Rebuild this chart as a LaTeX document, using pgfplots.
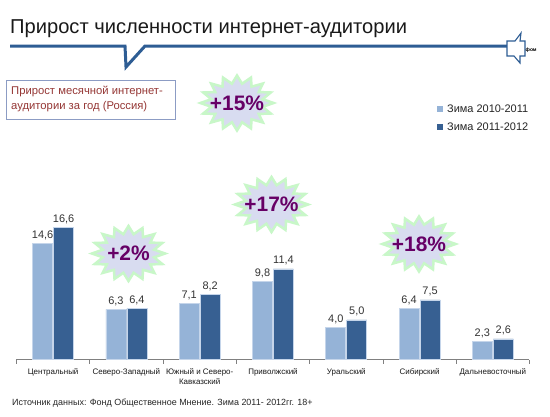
\documentclass[border=0pt]{standalone}
\usepackage{pgfplots}
\pgfplotsset{compat=1.18}
\usepackage{fontspec}
\setmainfont{Liberation Sans}
\usetikzlibrary{shapes.geometric}
\definecolor{lightbar}{HTML}{95B3D7}
\definecolor{darkbar}{HTML}{376092}
\definecolor{baredge}{HTML}{C5D5EA}
\definecolor{linecol}{HTML}{2E5D94}
\definecolor{starfill}{HTML}{D8DCF0}
\definecolor{starglow}{HTML}{C8F7C8}
\definecolor{purp}{HTML}{660066}
\definecolor{boxtext}{HTML}{953735}
\definecolor{boxframe}{HTML}{8C9CC4}
\begin{document}
\begin{tikzpicture}[x=1bp,y=1bp]
\path[fill=white,use as bounding box] (0,0) rectangle (550,416);
% title
\node[anchor=base west, inner sep=0, font=\fontsize{20.2}{24}\selectfont, text=black!90] at (10,416-33) {Прирост численности интернет-аудитории};
\draw[linecol, line width=3bp, line join=miter] (10,416-46) -- (125,416-46) -- (126,416-67) -- (145,416-46) -- (507,416-46);
\draw[linecol, line width=1.1bp, fill=white, line join=miter] (507,416-41) -- (515,416-41) -- (521,416-33) -- (520,416-41) -- (525,416-41) -- (525,416-56) -- (520,416-56) -- (520,416-63) -- (514,416-56) -- (507,416-56) -- cycle;
\node[anchor=west, inner sep=0, font=\bfseries\fontsize{5}{6}\selectfont] at (525.5,416-50) {фом};
% box
\draw[boxframe, line width=0.8bp] (6,416-80) rectangle (175,416-119);
\node[anchor=west, inner sep=0, align=left, text=boxtext, font=\fontsize{11.3}{15}\selectfont] at (11,416-99) {Прирост месячной интернет-\\аудитории за год (Россия)};
% legend
\fill[lightbar] (437,416-106) rectangle (443,416-112);
\node[anchor=west, inner sep=0, font=\fontsize{11}{12}\selectfont, text=black!85] at (447,416-109) {Зима 2010-2011};
\fill[darkbar] (437,416-124) rectangle (443,416-130);
\node[anchor=west, inner sep=0, font=\fontsize{11}{12}\selectfont, text=black!85] at (447,416-127) {Зима 2011-2012};
% chart
\begin{axis}[
  at={(22.5,71)}, anchor=south west,
  scale only axis, width=513bp, height=198.75bp,
  xmin=-0.5, xmax=6.5, ymin=0, ymax=25,
  ybar=1bp, bar width=20bp,
  axis x line*=bottom, axis y line=none,
  axis line style={-, draw=black!50, line width=1.2bp},
  xtick={0,...,6}, major tick length=0,
  minor xtick={-0.5,0.5,...,6.5}, minor tick length=4bp,
  tick align=outside, minor tick style={draw=black!50, line width=0.8bp},
  xticklabels={Центральный, Северо-Западный, {Южный и Северо-\\Кавказский}, Приволжский, Уральский, Сибирский, Дальневосточный},
  xticklabel style={font=\fontsize{8}{9.5}\selectfont, align=center, text=black!90, yshift=-6bp},
  nodes near coords,
  every node near coord/.append style={font=\fontsize{11}{12}\selectfont, text=black!80},
  /pgf/number format/.cd, use comma, fixed, fixed zerofill, precision=1, assume math mode=true,
]
\addplot[fill=lightbar, draw=baredge, line width=0.6bp] coordinates {(0,14.6) (1,6.3) (2,7.1) (3,9.8) (4,4.0) (5,6.4) (6,2.3)};
\addplot[fill=darkbar, draw=baredge, line width=0.6bp] coordinates {(0,16.6) (1,6.4) (2,8.2) (3,11.4) (4,5.0) (5,7.5) (6,2.6)};
\end{axis}
% stars
\foreach \cx/\cy/\t in {237/103/+15\%, 271.5/204.5/+17\%, 128.5/253.5/+2\%, 419/244/+18\%} {
  \begin{scope}[shift={(\cx,416-\cy)}, xscale=1.33]
    \node[star, star points=16, star point ratio=1.4, minimum size=55bp, inner sep=0, fill=starfill, draw=starglow, line width=2.5bp, transform shape] {};
  \end{scope}
  \node[font=\bfseries\fontsize{21}{22}\selectfont, text=purp] at (\cx,416-\cy) {\t};
}
% footer
\node[anchor=west, inner sep=0, font=\fontsize{9}{11}\selectfont, text=black!85] at (12,416-403) {Источник данных: Фонд Общественное Мнение. Зима 2011- 2012гг. 18+};
\end{tikzpicture}
\end{document}
